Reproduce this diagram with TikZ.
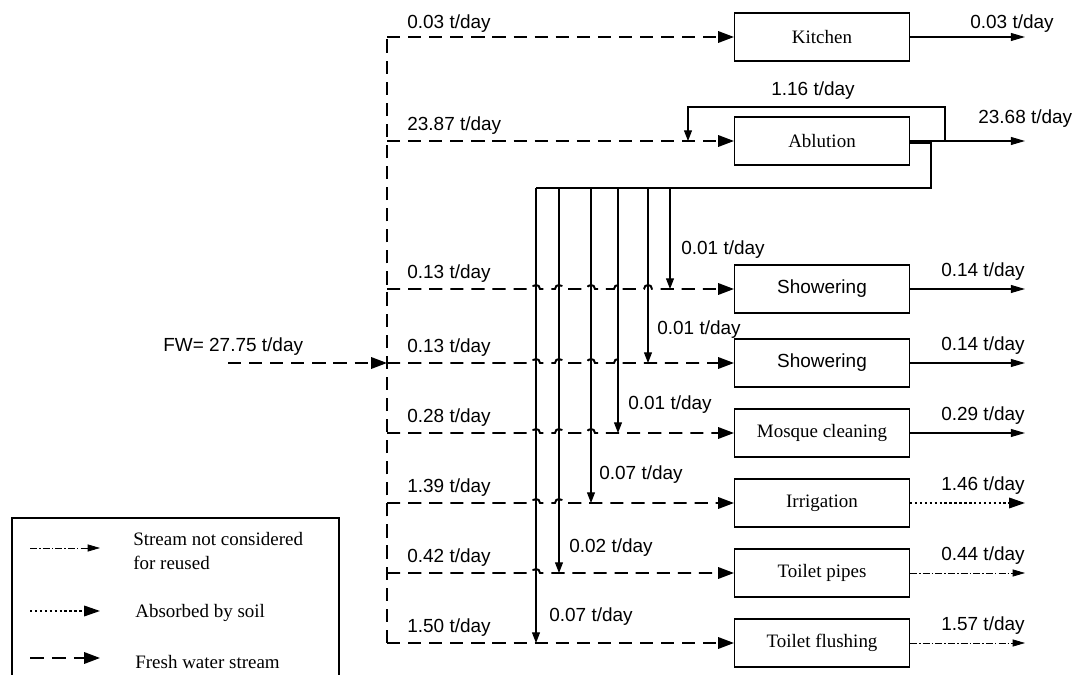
\documentclass[tikz,border=0pt]{standalone}
\usepackage{fontspec}
\setmainfont{Liberation Serif}
\newfontfamily\arialfont{Liberation Sans}
\usetikzlibrary{arrows.meta}

\tikzset{
  unitbox/.style={draw, line width=0.6pt, minimum width=3.5cm, minimum height=0.96cm,
    inner sep=0pt, font=\fontsize{10.8}{13}\selectfont},
  sansbox/.style={unitbox, font=\arialfont\fontsize{10.8}{13}\selectfont},
  fresh/.style={line width=1.1pt, dash pattern=on 7.5pt off 4.5pt},
  freshline/.style={fresh, -{Triangle[length=9pt,width=6.5pt]}},
  reuse/.style={line width=0.6pt, -{Triangle[length=6pt,width=4.5pt]}},
  outflow/.style={line width=0.6pt, -{Triangle[length=8pt,width=4.5pt]}},
  soilflow/.style={line width=0.9pt, dash pattern=on 1.4pt off 1.4pt, -{Triangle[length=9pt,width=6pt]}},
  wasteflow/.style={line width=0.45pt, dash pattern=on 4pt off 1.2pt on 0.8pt off 1.2pt,
    -{Triangle[length=7pt,width=4pt]}},
  rate/.style={font=\arialfont\fontsize{10.8}{13}\selectfont, inner sep=0pt},
  legtext/.style={font=\fontsize{10.8}{13.6}\selectfont, inner sep=0pt, align=left},
}

\begin{document}
\begin{tikzpicture}[x=0.02cm, y=-0.02cm]
\useasboundingbox (0,0) rectangle (1080,675);

% units
\node[unitbox] (kit)  at (822,37)  {Kitchen};
\node[unitbox] (abl)  at (822,141) {Ablution};
\node[sansbox] (sh1)  at (822,289) {Showering};
\node[sansbox] (sh2)  at (822,363) {Showering};
\node[unitbox] (mos)  at (822,433) {Mosque cleaning};
\node[unitbox] (irr)  at (822,503) {Irrigation};
\node[unitbox] (tpi)  at (822,573) {Toilet pipes};
\node[unitbox] (tfl)  at (822,643) {Toilet flushing};

% fresh water header
\coordinate (t1) at (387,37);
\coordinate (t2) at (387,141);
\coordinate (t3) at (387,289);
\coordinate (t4) at (387,363);
\coordinate (t5) at (387,433);
\coordinate (t6) at (387,503);
\coordinate (t7) at (387,573);
\coordinate (t8) at (387,643);
\coordinate (fwin) at (228,363);

\draw[fresh] (t8) -- (t1);
\draw[freshline] (fwin) -- (t4);
\node[rate, anchor=base west] (fwlab) at (163,352) {FW= 27.75 t/day};

% fresh water branches, hopping over the reuse lines
\draw[freshline] (t1) -- (kit.west);
\draw[freshline] (t2) -- (abl.west);
\draw[freshline] (t3) foreach \x in {536,559,591,618,648}
  { -- (\x-4,289) .. controls (\x-4,283.7) and (\x+4,283.7) .. (\x+4,289) } -- (sh1.west);
\draw[freshline] (t4) foreach \x in {536,559,591,618}
  { -- (\x-4,363) .. controls (\x-4,357.7) and (\x+4,357.7) .. (\x+4,363) } -- (sh2.west);
\draw[freshline] (t5) foreach \x in {536,559,591}
  { -- (\x-4,433) .. controls (\x-4,427.7) and (\x+4,427.7) .. (\x+4,433) } -- (mos.west);
\draw[freshline] (t6) foreach \x in {536,559}
  { -- (\x-4,503) .. controls (\x-4,497.7) and (\x+4,497.7) .. (\x+4,503) } -- (irr.west);
\draw[freshline] (t7) foreach \x in {536}
  { -- (\x-4,573) .. controls (\x-4,567.7) and (\x+4,567.7) .. (\x+4,573) } -- (tpi.west);
\draw[freshline] (t8) -- (tfl.west);

\node[rate, anchor=base west] (l1) at (407,29)  {0.03 t/day};
\node[rate, anchor=base west] (l2) at (407,131) {23.87 t/day};
\node[rate, anchor=base west] (l3) at (407,279) {0.13 t/day};
\node[rate, anchor=base west] (l4) at (407,353) {0.13 t/day};
\node[rate, anchor=base west] (l5) at (407,423) {0.28 t/day};
\node[rate, anchor=base west] (l6) at (407,493) {1.39 t/day};
\node[rate, anchor=base west] (l7) at (407,563) {0.42 t/day};
\node[rate, anchor=base west] (l8) at (407,633) {1.50 t/day};

% ablution recycle loop
\coordinate (rc1) at (945,141);
\coordinate (rc2) at (945,107);
\coordinate (rc3) at (688,107);
\coordinate (rc4) at (688,141);
\draw[reuse] (abl.east) -- (rc1) -- (rc2) -- (rc3) -- (rc4);
\node[rate, anchor=base] (l116) at (813,96) {1.16 t/day};

% ablution water reused in the other units
\coordinate (ab0) at (909,143);
\coordinate (ab1) at (931,143);
\coordinate (ab2) at (931,188);
\coordinate (j1) at (670,188);
\coordinate (j2) at (648,188);
\coordinate (j3) at (618,188);
\coordinate (j4) at (591,188);
\coordinate (j5) at (559,188);
\coordinate (j6) at (536,188);
\coordinate (d1) at (670,289);
\coordinate (d2) at (648,363);
\coordinate (d3) at (618,433);
\coordinate (d4) at (591,503);
\coordinate (d5) at (559,573);
\coordinate (d6) at (536,643);
\draw[line width=0.6pt] (ab0) -- (ab1) -- (ab2) -- (j6);
\foreach \i in {1,...,6} \draw[reuse] (j\i) -- (d\i);

\node[rate, anchor=base west] (r1) at (681,255) {0.01 t/day};
\node[rate, anchor=base west] (r2) at (657,335) {0.01 t/day};
\node[rate, anchor=base west] (r3) at (628,410) {0.01 t/day};
\node[rate, anchor=base west] (r4) at (599,480) {0.07 t/day};
\node[rate, anchor=base west] (r5) at (569,553) {0.02 t/day};
\node[rate, anchor=base west] (r6) at (549,622) {0.07 t/day};

% outlets
\coordinate (o1) at (1025,37);
\coordinate (o2) at (1025,141);
\coordinate (o3) at (1025,289);
\coordinate (o4) at (1025,363);
\coordinate (o5) at (1025,433);
\coordinate (o6) at (1025,503);
\coordinate (o7) at (1025,573);
\coordinate (o8) at (1025,643);
\draw[outflow] (kit.east) -- (o1);
\draw[outflow] (rc1) -- (o2);
\draw[outflow] (sh1.east) -- (o3);
\draw[outflow] (sh2.east) -- (o4);
\draw[outflow] (mos.east) -- (o5);
\draw[soilflow] (irr.east) -- (o6);
\draw[wasteflow] (tpi.east) -- (o7);
\draw[wasteflow] (tfl.east) -- (o8);

\node[rate, anchor=base west] (q1) at (970,29)  {0.03 t/day};
\node[rate, anchor=base west] (q2) at (978,124) {23.68 t/day};
\node[rate, anchor=base east] (q3) at (1025,277) {0.14 t/day};
\node[rate, anchor=base east] (q4) at (1025,351) {0.14 t/day};
\node[rate, anchor=base east] (q5) at (1025,421) {0.29 t/day};
\node[rate, anchor=base east] (q6) at (1025,491) {1.46 t/day};
\node[rate, anchor=base east] (q7) at (1025,561) {0.44 t/day};
\node[rate, anchor=base east] (q8) at (1025,631) {1.57 t/day};

% legend
\draw[line width=0.6pt] (12,675) -- (12,518) -- (339,518) -- (339,675);
\coordinate (k1a) at (30,548);  \coordinate (k1b) at (100,548);
\coordinate (k2a) at (30,611);  \coordinate (k2b) at (100,611);
\coordinate (k3a) at (30,658);  \coordinate (k3b) at (100,658);
\draw[wasteflow] (k1a) -- (k1b);
\draw[soilflow] (k2a) -- (k2b);
\draw[freshline, dash pattern=on 8pt off 4.5pt] (k3a) -- (k3b);
\node[legtext, anchor=north west] (k1t) at (133,532) {Stream not considered\\for reused};
\node[legtext, anchor=west] (k2t) at (135,613) {Absorbed by soil};
\node[legtext, anchor=west] (k3t) at (135,662) {Fresh water stream};
\end{tikzpicture}
\end{document}
